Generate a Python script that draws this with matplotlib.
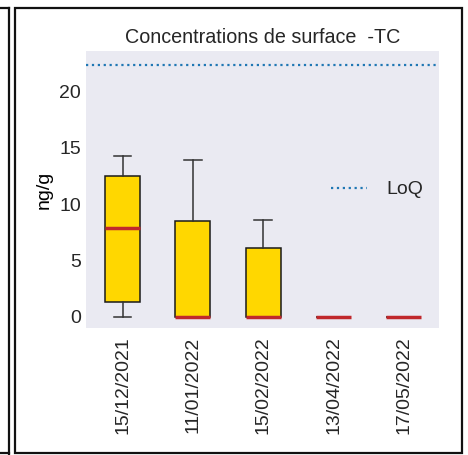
import matplotlib
matplotlib.use("Agg")
import matplotlib.pyplot as plt
from matplotlib.patches import Rectangle
from matplotlib.lines import Line2D

# sampling dates and box statistics (ng/g)
dates = ['15/12/2021', '11/01/2022', '15/02/2022', '13/04/2022', '17/05/2022']
whislo = [0, 0, 0, 0, 0]
q1 = [1.3, 0, 0, 0, 0]
med = [7.9, 0, 0, 0, 0]
q3 = [12.5, 8.5, 6.1, 0, 0]
whishi = [14.3, 13.9, 8.6, 0, 0]
loq = 22.4

plt.rcParams['font.family'] = ['Liberation Sans', 'DejaVu Sans']
plt.rcParams['text.color'] = '#262626'

W, H = 468, 455
fig = plt.figure(figsize=(W / 100, H / 100), dpi=100)
ax = fig.add_axes([86 / W, 1 - 328 / H, (439 - 86) / W, (328 - 51) / H])
ax.set_facecolor('#EAEAF2')
for s in ax.spines.values():
    s.set_visible(False)

stats = []
for i in range(len(dates)):
    stats.append(dict(label=dates[i], whislo=whislo[i], q1=q1[i], med=med[i],
                      q3=q3[i], whishi=whishi[i], fliers=[]))

ax.bxp(stats, positions=range(1, len(dates) + 1), widths=0.5, patch_artist=True,
       boxprops=dict(facecolor='#FFD700', edgecolor='#1a1a1a', linewidth=1.1),
       medianprops=dict(color='#C0282C', linewidth=2.5),
       whiskerprops=dict(color='#333333', linewidth=1.1),
       capprops=dict(color='#333333', linewidth=1.1))

ax.axhline(loq, color='#1f77b4', linestyle=':', linewidth=1.6, label='LoQ')

ax.set_xlim(0.48, 5.5)
ax.set_ylim(-1.0, 23.6)
ax.set_yticks([0, 5, 10, 15, 20])
ax.tick_params(axis='both', length=0, labelsize=14, colors='#262626')
ax.tick_params(axis='y', pad=3.5)
ax.tick_params(axis='x', pad=6)
ax.set_xticks(range(1, len(dates) + 1))
ax.set_xticklabels(dates, rotation=90)
ax.set_ylabel('ng/g', fontsize=14, labelpad=5)
ax.set_title('Concentrations de surface  -TC', fontsize=14.2, pad=5.5)

ax.legend(loc='center left', bbox_to_anchor=(0.672, 0.5), frameon=False,
          fontsize=14, handlelength=1.85, handletextpad=1.0, borderaxespad=0)

# screenshot frame lines
lc = '#111111'
fig.add_artist(Rectangle((15 / W, 1 - 453 / H), (462 - 15) / W, (453 - 7.5) / H,
                         transform=fig.transFigure, fill=False, edgecolor=lc, linewidth=1.6))
fig.add_artist(Line2D([8.5 / W, 8.5 / W], [0, 1 - 7.5 / H], transform=fig.transFigure,
                      color=lc, linewidth=1.6))
fig.add_artist(Line2D([0, 8.5 / W], [1 - 7.5 / H, 1 - 7.5 / H], transform=fig.transFigure,
                      color=lc, linewidth=1.6))
fig.add_artist(Line2D([0, 8.5 / W], [1 - 453 / H, 1 - 453 / H], transform=fig.transFigure,
                      color=lc, linewidth=1.6))

fig.savefig('out.png', dpi=100)
